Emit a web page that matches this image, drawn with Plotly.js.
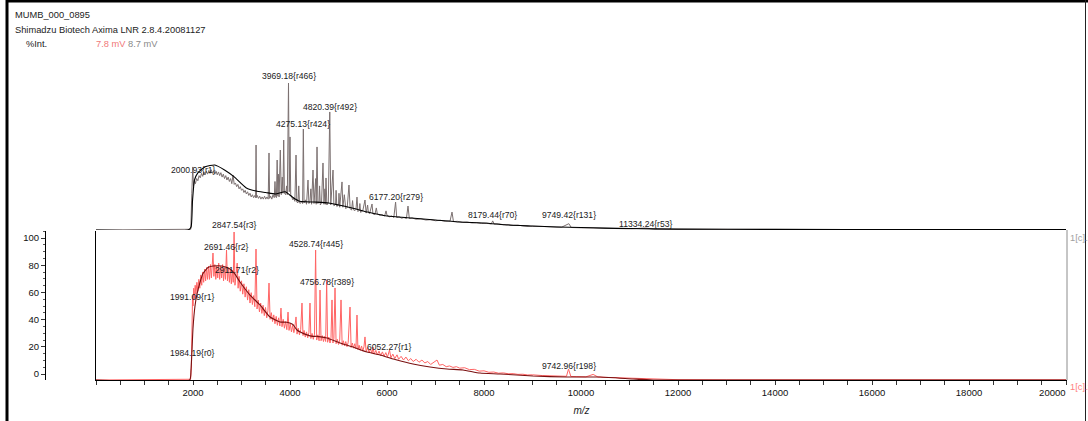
<!DOCTYPE html>
<html>
<head>
<meta charset="utf-8">
<script src="https://cdn.plot.ly/plotly-3.0.1.min.js"></script>
<style>html,body{margin:0;padding:0;background:#fff;}#chart{width:1088px;height:421px;}</style>
</head>
<body>
<div id="chart"></div>
<script>
// ---- Upper spectrum: grey raw trace, [m/z, %Int] ----
const upRawPts = [[0,0],[1900,0],[1955,0.5],[1975,25],[1995,42.9],[2010,30],[2030,33.5],[2050,31.5],[2075,35],[2100,33.5],[2125,37],[2150,35.5],[2175,38.5],[2200,36.5],[2225,39.5],[2250,37.5],[2275,40],[2300,38],[2325,40.5],[2350,38.5],[2375,41],[2400,38.5],[2425,40.5],[2450,38],[2475,40],[2500,37.5],[2525,39.5],[2550,37],[2575,39],[2600,36],[2625,38],[2650,35],[2675,37],[2700,34],[2725,36],[2750,33],[2775,35],[2800,31.5],[2825,37.4],[2850,31],[2875,32],[2900,29.5],[2925,31],[2950,28],[2975,29.5],[3000,27],[3025,28],[3050,25.5],[3075,27],[3100,24.5],[3125,26],[3150,23.5],[3175,25],[3200,22.5],[3225,24],[3250,22],[3275,23.5],[3290,22],[3300,57.8],[3310,22],[3325,23.5],[3350,21.5],[3375,23],[3400,21],[3425,22.5],[3450,21],[3475,23],[3500,21],[3525,22.5],[3550,21],[3567,52.4],[3580,21.5],[3600,23],[3625,21],[3650,24],[3675,22],[3690,33],[3705,22.5],[3720,22],[3735,47.6],[3750,23],[3760,38],[3775,22.5],[3800,54.4],[3820,24],[3840,36],[3855,25],[3870,61.2],[3885,25],[3910,24],[3930,30],[3945,24],[3969,100],[3985,26],[4000,63.3],[4015,24],[4040,22],[4060,20.5],[4080,22],[4100,19.5],[4124,51],[4140,19],[4165,18.5],[4180,30],[4195,19],[4210,18],[4240,19.5],[4260,18],[4275,68.7],[4290,18.5],[4320,20.5],[4340,17.5],[4371,34],[4390,18],[4412,19.5],[4430,28],[4445,17.5],[4474,40.8],[4495,18],[4530,35],[4540,17.5],[4557,56.5],[4575,18],[4600,19.5],[4610,30],[4625,17],[4650,18.5],[4680,45.6],[4700,17.5],[4720,28],[4730,17.5],[4742,35.4],[4760,17],[4790,18.5],[4820,80.3],[4840,17],[4887,40.8],[4905,16.5],[4940,17.5],[4950,27],[4965,16],[5000,17],[5010,25],[5025,15.5],[5072,32.7],[5090,15.5],[5120,24],[5135,15],[5150,14.5],[5180,15.5],[5216,30.6],[5240,14.5],[5270,13.5],[5290,20],[5305,14.5],[5330,13],[5360,14],[5381,22.4],[5400,12.5],[5430,13.5],[5440,18],[5455,12],[5500,13],[5546,20.4],[5570,11.5],[5600,17],[5615,12],[5640,11],[5691,17.7],[5710,11],[5750,10.5],[5780,15],[5800,11],[5850,10],[5900,10.5],[5950,9.5],[5980,13],[6000,10],[6050,9],[6100,9.5],[6140,8.5],[6177,19],[6200,8.5],[6250,9],[6300,8],[6350,8.5],[6400,7.8],[6433,16.3],[6460,7.8],[6520,8.2],[6600,7.3],[6700,7.6],[6800,6.8],[6900,7],[7000,6.3],[7100,6.6],[7200,5.9],[7300,6.1],[7340,12.2],[7370,5.7],[7450,5.9],[7550,5.2],[7650,5.4],[7750,4.8],[7850,5],[7950,4.4],[8050,4.6],[8150,4.1],[8179,6.2],[8210,4],[8300,4.2],[8400,3.6],[8500,3.7],[8600,3.2],[8700,3.3],[8800,2.8],[8900,2.9],[9000,2.5],[9200,2.4],[9400,2.0],[9600,1.9],[9749,4.3],[9800,1.7],[10000,1.5],[10200,1.3],[10400,1.2],[10600,1.0],[10800,0.9],[11000,0.8],[11334,1.3],[11500,0.6],[12000,0.5],[13000,0.4],[15000,0.3],[20000,0.3]];
// ---- Upper spectrum: black smoothed trace ----
const upSmPts = [[0,0],[1900,0],[1960,2],[1990,20],[2030,34],[2100,38.8],[2250,43],[2450,44.2],[2650,40.8],[2850,36.1],[3100,28.6],[3300,26.5],[3500,25.5],[3700,24.5],[3900,26],[4050,22.4],[4200,19.5],[4500,19],[4800,18.4],[5000,17],[5300,14.8],[5600,12.2],[6000,9.5],[6500,8.2],[7000,6.8],[7500,5.4],[8000,4.8],[8500,3.4],[9000,2.7],[9500,2.0],[10000,1.7],[10500,1.3],[11000,1.0],[12000,0.6],[14000,0.4],[17000,0.3],[20000,0.3]];

// ---- Lower spectrum: red raw trace ----
const loRawPts = [[0,0],[1900,0],[1950,0.5],[1965,8],[1978,30],[1986,45],[1991,57],[2000,50],[2015,62],[2030,55],[2045,64],[2060,58],[2080,66],[2100,60],[2120,68],[2140,62],[2160,71],[2180,64],[2200,73],[2220,66],[2240,75],[2260,67],[2280,76],[2300,68],[2320,77],[2340,68],[2360,78],[2380,69],[2412,85.8],[2430,70],[2450,78],[2470,68],[2490,77],[2510,69],[2530,79],[2550,68],[2570,77],[2590,69],[2610,78],[2630,67],[2650,76],[2670,68],[2691,87.8],[2710,67],[2730,76],[2750,66],[2770,75],[2790,65],[2810,74],[2830,66],[2847,100],[2865,64],[2890,72],[2911,79],[2930,62],[2950,70],[2975,60],[3000,67],[3025,58],[3050,65],[3075,56],[3100,63],[3125,54],[3150,61],[3175,52],[3200,59],[3225,51],[3250,57],[3275,49.5],[3299,88.5],[3320,48],[3345,54],[3370,46],[3395,52],[3420,45],[3445,50.5],[3470,43.5],[3495,49],[3520,42],[3545,47],[3567,65.5],[3590,41],[3615,45.5],[3640,39.5],[3665,44],[3690,38],[3715,43],[3740,37],[3765,42],[3790,36.5],[3814,48.6],[3835,36],[3860,41],[3885,35],[3910,39.5],[3935,34],[3959,45.9],[3980,33.5],[4005,38],[4030,32.5],[4055,37],[4080,32],[4100,36],[4124,42.6],[4145,31],[4170,35],[4195,30.5],[4220,34],[4247,52],[4268,30],[4290,33.5],[4315,29],[4340,32.5],[4365,28.5],[4390,32],[4412,52],[4430,28],[4455,31.5],[4480,27.5],[4505,31],[4528,87.8],[4550,27],[4575,30.5],[4600,26.5],[4619,60.8],[4640,26.5],[4665,30],[4690,26],[4715,29.5],[4735,26],[4756,67.6],[4775,25.5],[4800,29],[4825,25],[4845,28.5],[4866,54.1],[4885,25],[4905,28],[4928,62.2],[4950,24.5],[4975,27.5],[5000,24],[5025,27],[5052,54.1],[5075,23.5],[5100,26.5],[5125,23],[5150,26],[5175,22.5],[5200,25.5],[5237,49.3],[5260,22],[5285,25],[5310,21.5],[5335,24.5],[5360,21],[5381,43.9],[5400,20.5],[5425,23.5],[5450,20],[5475,23],[5500,19.5],[5525,22.5],[5546,29.1],[5570,19],[5600,22],[5630,18.5],[5660,21],[5690,18],[5711,22.3],[5735,17.5],[5770,20],[5800,17],[5835,19.5],[5870,16.5],[5905,19],[5940,16],[5975,18.5],[6010,15.5],[6052,20.3],[6080,15],[6120,17.5],[6160,14.5],[6206,17],[6240,14],[6290,16],[6340,13.5],[6390,15.5],[6440,13],[6490,14.5],[6540,12.5],[6600,14],[6660,12],[6720,13.5],[6780,11.5],[6840,12.5],[6900,10.5],[6960,12],[7031,13.5],[7080,10],[7150,10.5],[7220,9],[7290,9.5],[7360,8.5],[7430,9],[7500,8],[7600,8.3],[7700,7],[7800,7.2],[7900,6],[8000,6.2],[8100,5.2],[8200,5.4],[8300,4.6],[8400,4.8],[8500,4.2],[8600,4.3],[8700,3.8],[8800,3.9],[8900,3.4],[9000,3.5],[9200,3.0],[9400,2.8],[9600,2.6],[9700,2.5],[9742,7.4],[9790,2.4],[9900,2.3],[10100,2.1],[10250,3.8],[10350,2.0],[10500,1.8],[10700,1.6],[10900,1.4],[11100,1.2],[11300,1.0],[11500,0.6],[11700,0.5],[12000,0.2],[13000,0.1],[20000,0.1]];
// ---- Lower spectrum: dark red smoothed trace ----
const loSmPts = [[0,0],[1930,0],[1959,6.8],[2000,35],[2041,50],[2082,58],[2144,66],[2206,72],[2309,76],[2412,77],[2598,77],[2763,75],[2866,71.5],[2969,66.2],[3175,57.4],[3381,50.7],[3588,42.6],[3794,39.2],[3938,39],[4060,37.5],[4144,33.8],[4351,30.5],[4474,29.5],[4557,29.5],[4763,28.4],[5031,25],[5299,22.3],[5588,18.9],[5856,16.9],[6206,13.5],[6536,10.8],[6887,8.8],[7237,7.4],[7567,6.8],[7918,4.7],[8330,4.1],[9010,2.7],[9711,2.0],[10392,2.0],[11072,0.7],[11485,0],[20000,0]];

// ---- Peak labels ----
const upPeakMz = [2000.93, 3969.18, 4275.13, 4820.39, 6177.20, 8179.44, 9749.42, 11334.24];
const upPeakRank = ['r1','r466','r424','r492','r279','r70','r131','r53'];
const upPeakLabelY = [40.8, 104.8, 72.1, 83.7, 22.4, 10.2, 10.2, 4.1];
const loPeakMz = [1984.19, 1991.09, 2691.46, 2847.54, 2911.71, 4528.74, 4756.78, 6052.27, 9742.96];
const loPeakRank = ['r0','r1','r2','r3','r2','r445','r389','r1','r198'];
const loPeakLabelY = [18.2, 56.1, 89.9, 104.7, 74.3, 91.9, 66.2, 22.3, 9.5];

// ---- Axis ticks / header text ----
const xTickVals = [2000,4000,6000,8000,10000,12000,14000,16000,18000,20000];
const xEndTick = [20000];
const yTickVals = [0,20,40,60,80,100];
const headerLines = ['MUMB_000_0895', 'Shimadzu Biotech Axima LNR 2.8.4.20081127'];
const intLabel = '%Int.';
const mvLabels = ['7.8 mV', '8.7 mV'];
const traceTag = '1[c].2';

// ---- Layout geometry (pixels of the 1088x421 window) ----
const W = 1088, H = 421;
const px = v => v / W, py = v => 1 - v / H;
const LO_MAX = 100.68, UP_MAX = 110, LO_PXU = 149 / LO_MAX, X_RANGE = [0, 20020];
const col = (pts, i) => pts.map(p => p[i]);
const labelFont = {family: 'Liberation Sans, Arial, sans-serif', size: 8.6, color: '#1a1a1a'};
const textFont = {family: 'Liberation Sans, Arial, sans-serif', size: 9.3, color: '#222'};
const tickFont = {family: 'Liberation Sans, Arial, sans-serif', size: 9.5, color: '#111'};

const traces = [
  {x: col(upRawPts, 0), y: col(upRawPts, 1), xaxis: 'x', yaxis: 'y2', mode: 'lines', line: {color: '#7b7070', width: 1}, hoverinfo: 'skip'},
  {x: col(upSmPts, 0), y: col(upSmPts, 1), xaxis: 'x', yaxis: 'y2', mode: 'lines', line: {color: '#000', width: 1.1, shape: 'spline', smoothing: 0.5}, hoverinfo: 'skip'},
  {x: col(loRawPts, 0), y: col(loRawPts, 1), xaxis: 'x', yaxis: 'y', mode: 'lines', line: {color: '#ff6464', width: 1}, hoverinfo: 'skip'},
  {x: col(loSmPts, 0), y: col(loSmPts, 1), xaxis: 'x', yaxis: 'y', mode: 'lines', line: {color: '#7a1010', width: 1.1, shape: 'spline', smoothing: 0.5}, hoverinfo: 'skip'},
  {x: [], y: [], xaxis: 'x', yaxis: 'y3', mode: 'lines', hoverinfo: 'skip'},
  {x: [], y: [], xaxis: 'x2', yaxis: 'y', mode: 'lines', hoverinfo: 'skip'}
];

const annotations = [];
upPeakMz.forEach((m, i) => annotations.push({
  x: m, y: upPeakLabelY[i], xref: 'x', yref: 'y2', text: m.toFixed(2) + '{' + upPeakRank[i] + '}',
  showarrow: false, xanchor: 'center', yanchor: 'middle', font: labelFont
}));
loPeakMz.forEach((m, i) => {
  const v = loPeakLabelY[i], yv = Math.min(v, LO_MAX - 0.5);
  annotations.push({
    x: m, y: yv, xref: 'x', yref: 'y', yshift: (v - yv) * LO_PXU, text: m.toFixed(2) + '{' + loPeakRank[i] + '}',
    showarrow: false, xanchor: 'center', yanchor: 'middle', font: labelFont
  });
});
headerLines.forEach((t, i) => annotations.push({
  x: px(13), y: py(15 + 15 * i), xref: 'paper', yref: 'paper', text: t, showarrow: false,
  xanchor: 'left', yanchor: 'middle', font: textFont
}));
annotations.push({x: px(24), y: py(44), xref: 'paper', yref: 'paper', text: intLabel, showarrow: false, xanchor: 'left', yanchor: 'middle', font: textFont});
annotations.push({x: px(94), y: py(44), xref: 'paper', yref: 'paper',
  text: '<span style="color:#f07878">' + mvLabels[0] + '</span> <span style="color:#8a8a8a">' + mvLabels[1] + '</span>',
  showarrow: false, xanchor: 'left', yanchor: 'middle', font: textFont});
annotations.push({x: px(1068), y: py(238), xref: 'paper', yref: 'paper', text: traceTag, showarrow: false, xanchor: 'left', yanchor: 'middle', font: Object.assign({}, textFont, {color: '#a0a0a0'})});
annotations.push({x: px(1068), y: py(387), xref: 'paper', yref: 'paper', text: traceTag, showarrow: false, xanchor: 'left', yanchor: 'middle', font: Object.assign({}, textFont, {color: '#ff8080'})});

const shapes = [
  {type: 'line', xref: 'paper', yref: 'paper', x0: px(7), x1: px(7), y0: 0, y1: 1, line: {color: '#000', width: 3}},
  {type: 'line', xref: 'paper', yref: 'paper', x0: px(6), x1: 1, y0: py(1), y1: py(1), line: {color: '#000', width: 3}},
  {type: 'line', xref: 'paper', yref: 'paper', x0: px(1085.5), x1: px(1085.5), y0: 0, y1: 1, line: {color: '#222', width: 1}},
  {type: 'line', xref: 'paper', yref: 'paper', x0: px(1067), x1: px(1067), y0: py(380), y1: py(230), line: {color: '#8c8c8c', width: 1}}
];

// the last label (20000) sits to the left of its tick in the reference: drawn by an overlaid axis
const xTickText = xTickVals.map(v => xEndTick.includes(v) ? '' : String(v));

const layout = {
  width: W, height: H, margin: {l: 0, r: 0, t: 0, b: 0},
  paper_bgcolor: '#fff', plot_bgcolor: 'rgba(0,0,0,0)', showlegend: false,
  xaxis: {
    domain: [px(96), px(1067)], range: X_RANGE, anchor: 'y', automargin: false,
    showline: true, linecolor: '#000', linewidth: 1, showgrid: false, zeroline: false,
    tickmode: 'array', tickvals: xTickVals, ticktext: xTickText,
    ticks: 'outside', ticklen: 4, tickcolor: '#333', tickwidth: 1,
    minor: {dtick: 500, tick0: 0, ticks: 'outside', ticklen: 4, tickcolor: '#333', showgrid: false},
    tickfont: tickFont,
    title: {text: '<i>m/z</i>', standoff: 9, font: {family: 'Liberation Sans, Arial, sans-serif', size: 10, color: '#222'}}
  },
  xaxis2: {
    overlaying: 'x', anchor: 'y', side: 'bottom', range: X_RANGE, automargin: false,
    showline: false, showgrid: false, zeroline: false,
    ticks: 'outside', ticklen: 4, tickcolor: 'rgba(0,0,0,0)', ticklabelstandoff: 4,
    tickmode: 'array', tickvals: xEndTick, ticktext: xEndTick.map(String),
    ticklabelposition: 'outside left', tickfont: tickFont
  },
  yaxis: {
    domain: [py(380), py(231)], range: [0, LO_MAX], anchor: 'x', automargin: false,
    showline: true, linecolor: '#000', linewidth: 1, showgrid: false, zeroline: false,
    showticklabels: false, ticks: ''
  },
  yaxis2: {
    domain: [py(230), py(230 - UP_MAX * 1.47)], range: [0, UP_MAX], anchor: 'x', automargin: false,
    visible: false
  },
  yaxis3: {
    domain: [py(380), py(231)], range: [-4.41, 105.15], anchor: 'free', position: px(45), overlaying: 'y', automargin: false,
    showline: true, linecolor: '#000', linewidth: 1, showgrid: false, zeroline: false,
    tickmode: 'array', tickvals: yTickVals, ticks: 'outside', ticklen: 4, tickcolor: '#333',
    minor: {dtick: 5, tick0: 0, ticks: 'outside', ticklen: 2, tickcolor: '#555', showgrid: false},
    tickfont: tickFont
  },
  annotations: annotations,
  shapes: shapes
};

Plotly.newPlot('chart', traces, layout, {staticPlot: true, displayModeBar: false});
</script>
</body>
</html>
